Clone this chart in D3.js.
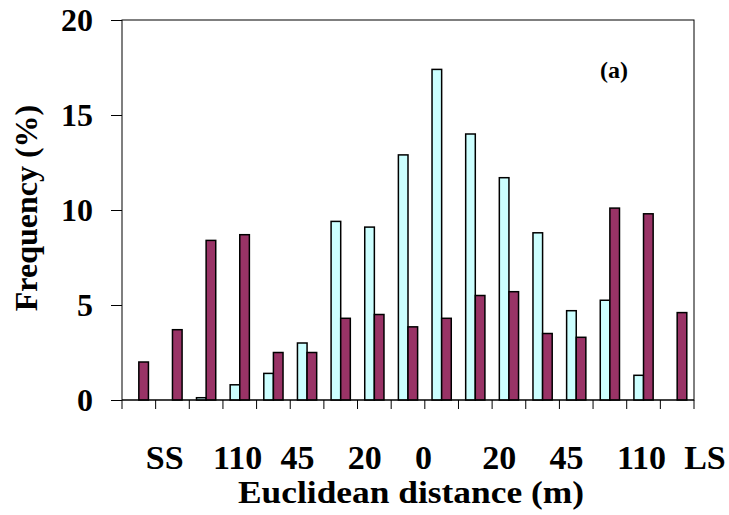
<!DOCTYPE html>
<html>
<head>
<meta charset="utf-8">
<script src="https://cdn.jsdelivr.net/npm/d3@7"></script>
<style>
  body { margin: 0; background: #fff; }
  svg text { font-family: "Times New Roman", Times, "Liberation Serif", Tinos, serif; font-weight: bold; fill: #000; }
</style>
</head>
<body>
<svg id="chart"></svg>
<script>
// 17 distance classes, labelled every other one
const categories = d3.range(17);
const tickLabels = ["SS", "", "110", "", "45", "", "20", "", "0", "", "20", "", "45", "", "110", "", "LS"];
const seriesA = [0, 0, 0.12, 0.8, 1.4, 3.0, 9.4, 9.1, 12.9, 17.4, 14.0, 11.7, 8.8, 4.7, 5.25, 1.3, 0];
const seriesB = [2.0, 3.7, 8.4, 8.7, 2.5, 2.5, 4.3, 4.5, 3.85, 4.3, 5.5, 5.7, 3.5, 3.3, 10.1, 9.8, 4.6];
const yTicks = [0, 5, 10, 15, 20];

const width = 729, height = 515;
const margin = { top: 20, right: 35, bottom: 115, left: 122 };
const svg = d3.select("#chart").attr("width", width).attr("height", height);

const x0 = d3.scaleBand()
  .domain(categories)
  .range([margin.left, width - margin.right])
  .padding(0);

const x1 = d3.scaleBand()
  .domain(["a", "b"])
  .range([0, x0.bandwidth()])
  .paddingInner(0)
  .paddingOuter(0.75);

const y = d3.scaleLinear()
  .domain([0, 20])
  .range([height - margin.bottom, margin.top]);

const colors = { a: "#ccffff", b: "#993366" };

// frame
svg.append("rect")
  .attr("x", margin.left)
  .attr("y", margin.top)
  .attr("width", width - margin.right - margin.left)
  .attr("height", y(0) - margin.top)
  .attr("fill", "none")
  .attr("stroke", "#000")
  .attr("stroke-width", 1);

// bars
const rows = categories.map((c, i) => ({ c, a: seriesA[i], b: seriesB[i] }));
svg.append("g")
  .selectAll("g")
  .data(rows)
  .join("g")
  .attr("transform", d => `translate(${x0(d.c)},0)`)
  .selectAll("rect")
  .data(d => ["a", "b"].map(k => ({ k, v: d[k] })).filter(e => e.v > 0))
  .join("rect")
  .attr("x", d => x1(d.k))
  .attr("width", x1.bandwidth())
  .attr("y", d => y(d.v))
  .attr("height", d => y(0) - y(d.v))
  .attr("fill", d => colors[d.k])
  .attr("stroke", "#000")
  .attr("stroke-width", 1.5);

// y axis
const yAxis = svg.append("g")
  .attr("transform", `translate(${margin.left},0)`)
  .call(d3.axisLeft(y).tickValues(yTicks).tickSize(11).tickPadding(18));
yAxis.attr("font-family", null);
yAxis.select(".domain").remove();
yAxis.selectAll("line").attr("stroke", "#000");
yAxis.selectAll("text").style("font-size", "32px").attr("dy", "0.34em");

// x axis baseline and boundary ticks
svg.append("line")
  .attr("x1", margin.left).attr("x2", width - margin.right)
  .attr("y1", y(0)).attr("y2", y(0))
  .attr("stroke", "#000");

const bounds = categories.map(c => x0(c)).concat([x0.range()[1]]);
svg.append("g")
  .selectAll("line")
  .data(bounds)
  .join("line")
  .attr("x1", d => d).attr("x2", d => d)
  .attr("y1", y(0)).attr("y2", y(0) + 9)
  .attr("stroke", "#000");

// x labels
const xAxis = svg.append("g")
  .attr("transform", `translate(0,${y(0)})`)
  .call(d3.axisBottom(x0).tickSize(0).tickFormat((d, i) => tickLabels[i]));
xAxis.attr("font-family", null);
xAxis.select(".domain").remove();
xAxis.selectAll("text")
  .style("font-size", "34px")
  .attr("text-anchor", "start")
  .attr("dx", 7)
  .attr("y", 69)
  .attr("dy", 0);

// axis titles
svg.append("text")
  .attr("x", 411)
  .attr("y", 503)
  .attr("text-anchor", "middle")
  .attr("textLength", 346)
  .attr("lengthAdjust", "spacingAndGlyphs")
  .style("font-size", "32px")
  .text("Euclidean distance (m)");

svg.append("text")
  .attr("transform", "translate(37,208) rotate(-90)")
  .attr("text-anchor", "middle")
  .style("font-size", "32px")
  .text("Frequency (%)");

svg.append("text")
  .attr("x", 600)
  .attr("y", 78)
  .style("font-size", "24px")
  .text("(a)");
</script>
</body>
</html>
